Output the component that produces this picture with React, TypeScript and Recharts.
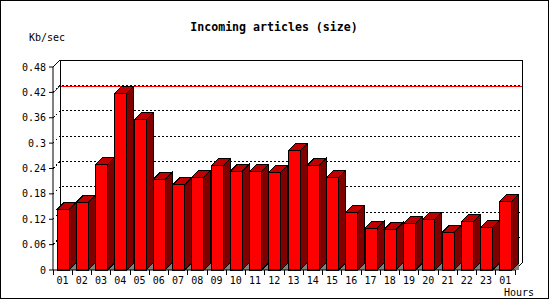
import React from 'react'
import { Bar, BarChart, CartesianGrid, ReferenceArea, XAxis, YAxis } from 'recharts'

const hours = ['01', '02', '03', '04', '05', '06', '07', '08', '09', '10', '11', '12',
  '13', '14', '15', '16', '17', '18', '19', '20', '21', '22', '23', '01']
const kbPerSec = [0.1435, 0.16, 0.25, 0.418, 0.355, 0.2145, 0.201, 0.219, 0.246, 0.233, 0.233, 0.231,
  0.282, 0.248, 0.219, 0.136, 0.099, 0.096, 0.11, 0.12, 0.089, 0.1135, 0.101, 0.163]
const yTicks = [0, 0.06, 0.12, 0.18, 0.24, 0.3, 0.36, 0.42, 0.48]
const gridValues = [0.06, 0.12, 0.18, 0.24, 0.3, 0.36, 0.42]

const data = hours.map((h, i) => ({ idx: i, hour: h, value: kbPerSec[i] }))
const maxValue = Math.max(...kbPerSec)

const D = 7 // depth of the 3d effect
const MONO = '"DejaVu Sans Mono", monospace'

const Bar3D = (props: any) => {
  const { x, y, width, height } = props
  const w = width
  const b = y + height
  return (
    <g shapeRendering="crispEdges">
      <polygon points={`${x + w},${b} ${x + w + D},${b - D} ${x + w + D},${b}`} fill="#808080" />
      <polygon
        points={`${x + w},${y} ${x + w + D},${y - D} ${x + w + D},${b - D} ${x + w},${b}`}
        fill="#800000"
        stroke="#000"
      />
      <polygon
        points={`${x},${y} ${x + D},${y - D} ${x + w + D},${y - D} ${x + w},${y}`}
        fill="#c00000"
        stroke="#000"
      />
      <rect x={x} y={y} width={w} height={height} fill="#ff0000" stroke="#000" />
    </g>
  )
}

const dottedLine = (props: any) => {
  const { x1, y1, x2, key } = props
  return (
    <polyline
      key={key}
      points={`${x1},${y1} ${x1 + D},${y1 - D} ${x2 + D},${y1 - D}`}
      fill="none"
      stroke="#000"
      strokeDasharray="2 2"
      shapeRendering="crispEdges"
    />
  )
}

const redLine = (props: any) => {
  const { x1, y1, x2, key } = props
  return (
    <polyline
      key={key}
      points={`${x1},${y1} ${x1 + D},${y1 - D} ${x2 + D},${y1 - D}`}
      fill="none"
      stroke="#ff0000"
      shapeRendering="crispEdges"
    />
  )
}

const BackFrame = (props: any) => {
  const { x, y, width, height } = props
  const r = x + width
  const b = y + height
  return (
    <g fill="none" stroke="#000" shapeRendering="crispEdges">
      <polyline points={`${x},${y} ${x + D},${y - D} ${r + D},${y - D} ${r + D},${b - D} ${r},${b}`} />
      <line x1={x + D} y1={y - D} x2={x + D} y2={b - D} />
    </g>
  )
}

const HourTick = (props: any) => {
  const { x, y, payload } = props
  const off = payload.offset || 9.6
  return (
    <g>
      {payload.index === 0 && (
        <line x1={x - off} y1={y} x2={x - off} y2={y + 5} stroke="#000" shapeRendering="crispEdges" />
      )}
      <line x1={x + off} y1={y} x2={x + off} y2={y + 5} stroke="#000" shapeRendering="crispEdges" />
      <text x={x} y={y + 14} textAnchor="middle" fontFamily={MONO} fontSize={10} fill="#000">
        {hours[payload.value]}
      </text>
    </g>
  )
}

export default function App() {
  return (
    <div style={{ position: 'relative', width: 550, height: 300, background: '#fff' }}>
      <style>{'body{margin:0}'}</style>
      <BarChart width={550} height={300} data={data} margin={{ top: 67, right: 35, bottom: 7, left: 0 }}>
        <CartesianGrid horizontal={dottedLine} vertical={false} horizontalValues={gridValues} />
        <CartesianGrid horizontal={redLine} vertical={false} horizontalValues={[maxValue]} />
        <ReferenceArea y1={0} y2={0.48} shape={BackFrame} />
        <XAxis
          dataKey="idx"
          type="category"
          height={23}
          tickLine={false}
          tickSize={0}
          tickMargin={0}
          interval={0}
          axisLine={{ stroke: '#000' }}
          tick={HourTick}
        />
        <YAxis
          width={53}
          domain={[0, 0.48]}
          ticks={yTicks}
          interval={0}
          tickSize={4}
          tickMargin={3}
          axisLine={{ stroke: '#000' }}
          tickLine={{ stroke: '#000' }}
          tick={{ fontFamily: MONO, fontSize: 10, fill: '#000' }}
          tickFormatter={(v: number) => String(v)}
        />
        <Bar dataKey="value" barSize={12} shape={Bar3D} isAnimationActive={false} />
      </BarChart>
      <svg width={550} height={300} style={{ position: 'absolute', left: 0, top: 0, pointerEvents: 'none' }}>
        <rect x={0.5} y={0.5} width={548} height={298} fill="none" stroke="#000" />
        <text x={274} y={31} textAnchor="middle" fontFamily={MONO} fontWeight="bold" fontSize={11.6} fill="#000">
          Incoming articles (size)
        </text>
        <text x={29} y={41} fontFamily={MONO} fontSize={10} fill="#000">Kb/sec</text>
        <text x={504} y={296} fontFamily={MONO} fontSize={10} fill="#000">Hours</text>
      </svg>
    </div>
  )
}
